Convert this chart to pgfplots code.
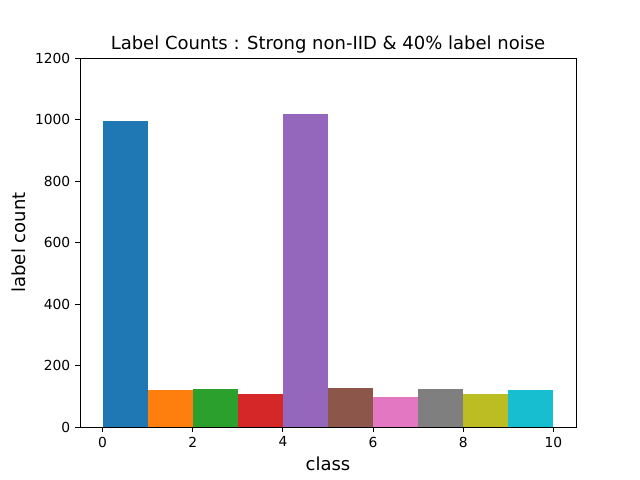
\documentclass[border=0pt]{standalone}
\usepackage{fontspec}
\setmainfont{DejaVu Sans}
\usepackage{pgfplots}
\pgfplotsset{compat=1.18}
\definecolor{c0}{HTML}{1F77B4}
\definecolor{c1}{HTML}{FF7F0E}
\definecolor{c2}{HTML}{2CA02C}
\definecolor{c3}{HTML}{D62728}
\definecolor{c4}{HTML}{9467BD}
\definecolor{c5}{HTML}{8C564B}
\definecolor{c6}{HTML}{E377C2}
\definecolor{c7}{HTML}{7F7F7F}
\definecolor{c8}{HTML}{BCBD22}
\definecolor{c9}{HTML}{17BECF}
\begin{document}
\begin{tikzpicture}
\path[use as bounding box] (-0.8in,-0.53in) rectangle (5.6in,4.27in);
\begin{axis}[
  at={(0,0)}, anchor=south west,
  scale only axis, width=4.96in, height=3.69in,
  xmin=-0.5, xmax=10.5, ymin=0, ymax=1200,
  xtick={0,2,4,6,8,10}, ytick={0,200,...,1200},
  tick align=outside, major tick length=3.5pt,
  tick pos=left,
  tick label style={font=\fontsize{10}{12}\selectfont},
  /pgf/number format/assume math mode=true,
  /pgf/number format/1000 sep={},
  title={Label Counts : Strong non-IID \& 40\% label noise},
  title style={font=\fontsize{13}{15}\selectfont, at={(0.5,1)}, anchor=base, yshift=0pt, inner sep=0pt},
  xlabel={class}, ylabel={label count},
  label style={font=\fontsize{13}{15}\selectfont},
  axis line style={line width=0.7pt},
  every tick/.style={line width=0.7pt, black},
]
\addplot[ybar, bar width=1, bar shift=0pt, fill=c0, draw=none] coordinates {(0.5,995)};
\addplot[ybar, bar width=1, bar shift=0pt, fill=c1, draw=none] coordinates {(1.5,120)};
\addplot[ybar, bar width=1, bar shift=0pt, fill=c2, draw=none] coordinates {(2.5,124)};
\addplot[ybar, bar width=1, bar shift=0pt, fill=c3, draw=none] coordinates {(3.5,107)};
\addplot[ybar, bar width=1, bar shift=0pt, fill=c4, draw=none] coordinates {(4.5,1018)};
\addplot[ybar, bar width=1, bar shift=0pt, fill=c5, draw=none] coordinates {(5.5,127)};
\addplot[ybar, bar width=1, bar shift=0pt, fill=c6, draw=none] coordinates {(6.5,98)};
\addplot[ybar, bar width=1, bar shift=0pt, fill=c7, draw=none] coordinates {(7.5,124)};
\addplot[ybar, bar width=1, bar shift=0pt, fill=c8, draw=none] coordinates {(8.5,107)};
\addplot[ybar, bar width=1, bar shift=0pt, fill=c9, draw=none] coordinates {(9.5,120)};
\end{axis}
\end{tikzpicture}
\end{document}
